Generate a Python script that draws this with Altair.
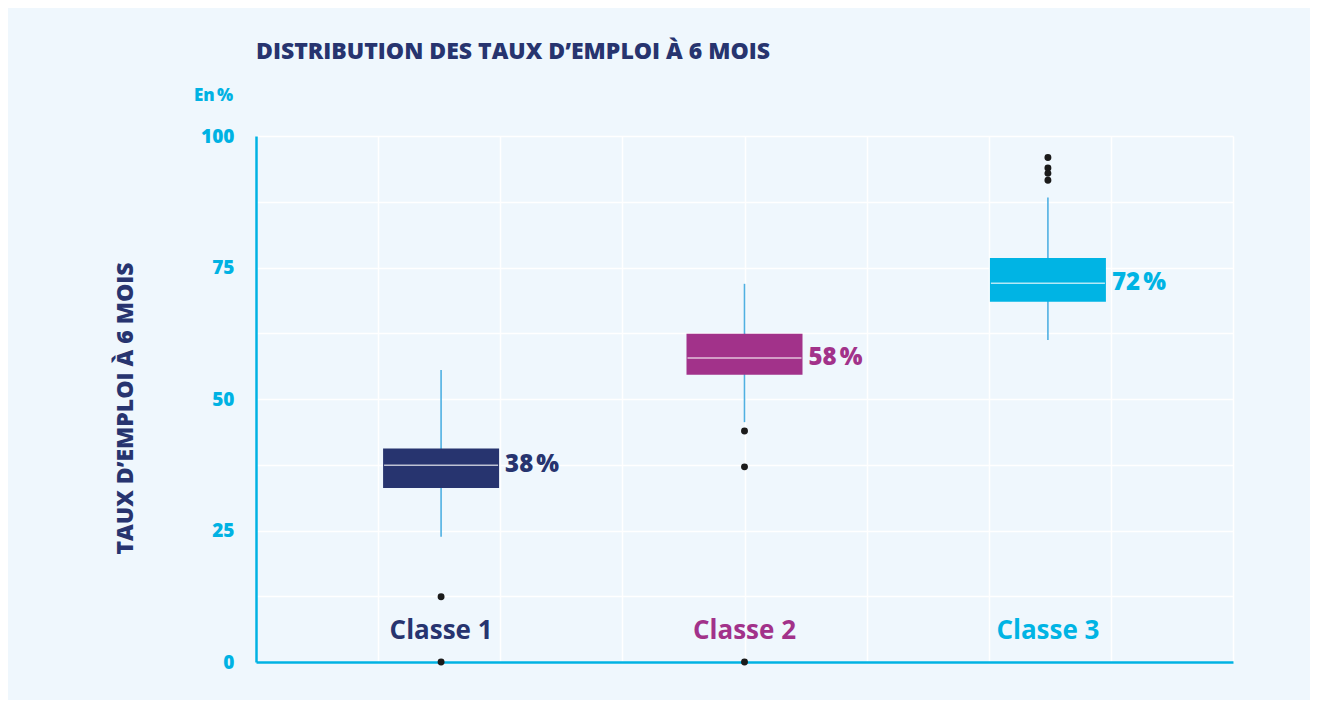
import altair as alt
import pandas as pd

# ---------------- data ----------------
classes = ["Classe 1", "Classe 2", "Classe 3"]
q1 = [33.1, 54.6, 68.5]
median = [37.4, 57.8, 72.0]
q3 = [40.6, 62.4, 76.8]
whisker_low = [23.8, 45.6, 61.2]
whisker_high = [55.5, 71.9, 88.3]
median_labels = ["38\u202f%", "58\u202f%", "72\u202f%"]

outlier_class = ["Classe 1", "Classe 1", "Classe 2", "Classe 2", "Classe 2",
                 "Classe 3", "Classe 3", "Classe 3", "Classe 3"]
outlier_value = [12.4, 0.0, 43.9, 37.1, 0.0, 95.9, 93.9, 92.9, 91.6]

y_ticks = [0, 12.5, 25, 37.5, 50, 62.5, 75, 87.5, 100]
grid_x = [0, 8]

class_colors = ["#27346f", "#a2328a", "#00b4e4"]
NAVY = "#27346f"
CYAN = "#00b2e3"
BG = "#eff7fd"
FONT = "Open Sans"

# ---------------- frames ----------------
stats = pd.DataFrame({
    "classe": classes, "q1": q1, "median": median, "q3": q3,
    "lo": whisker_low, "hi": whisker_high, "label": median_labels,
})
outliers = pd.DataFrame({"classe": outlier_class, "value": outlier_value})
grid_df = pd.DataFrame({"g": grid_x})

W, H = 977, 526

xband = alt.X("classe:N", sort=classes, axis=None,
              scale=alt.Scale(type="band", domain=classes, paddingInner=0, paddingOuter=0.11))
yscale = alt.Scale(domain=[0, 100], nice=False)
color = alt.Color("classe:N", scale=alt.Scale(domain=classes, range=class_colors), legend=None)

yaxis = alt.Axis(
    values=y_ticks,
    labelExpr="datum.value % 25 == 0 ? datum.label : ''",
    grid=True, gridColor="white", gridWidth=1.5,
    ticks=False, domain=True, domainColor=CYAN, domainWidth=2.5,
    labelColor=CYAN, labelFont=FONT, labelFontWeight=800, labelFontSize=19,
    labelPadding=22,
    title="TAUX D’EMPLOI À 6 MOIS", titleColor=NAVY, titleFont=FONT,
    titleFontWeight=800, titleFontSize=23,
    titleX=-131, titleY=272, titleAlign="center", titleBaseline="middle", titleAngle=270,
)

grid_layer = alt.Chart(grid_df).mark_rule(opacity=0).encode(
    x=alt.X("g:Q", scale=alt.Scale(domain=[0, 8], nice=False),
            axis=alt.Axis(values=list(range(9)), grid=True, gridColor="white", gridWidth=1.5,
                          labels=False, ticks=False, domain=True, domainColor=CYAN,
                          domainWidth=2.5, title=None)),
)

base = alt.Chart(stats)

whisk = base.mark_rule(color="#4fb0e2", strokeWidth=1.6).encode(
    x=xband,
    y=alt.Y("lo:Q", scale=yscale, axis=yaxis),
    y2="hi:Q",
)

boxes = base.mark_bar(size=116).encode(
    x=xband,
    y=alt.Y("q1:Q", scale=yscale),
    y2="q3:Q",
    color=color,
)

med = base.mark_tick(color="white", thickness=1.4, size=114).encode(
    x=xband,
    y=alt.Y("median:Q", scale=yscale),
)

pct = base.mark_text(align="left", baseline="middle", dx=64, font=FONT,
                     fontWeight=800, fontSize=24).encode(
    x=xband,
    y=alt.Y("median:Q", scale=yscale),
    text="label:N",
    color=color,
)

cls = base.mark_text(align="center", baseline="middle", font=FONT,
                     fontWeight=700, fontSize=26).encode(
    x=xband,
    y=alt.value(H - 31),
    text="classe:N",
    color=color,
)

outl = alt.Chart(outliers).mark_circle(size=48, color="#1b1b1b", opacity=1).encode(
    x=xband,
    y=alt.Y("value:Q", scale=yscale),
)

unit = alt.Chart(pd.DataFrame({"t": ["En\u202f%"]})).mark_text(
    align="right", baseline="middle", font=FONT, fontWeight=800,
    fontSize=17, color=CYAN,
).encode(
    x=alt.value(-23),
    y=alt.value(-40),
    text="t:N",
)

boxgroup = alt.layer(whisk, boxes, med, pct, cls, outl, unit)

chart = alt.layer(
    grid_layer, boxgroup
).resolve_scale(
    x="independent"
).properties(
    width=W, height=H,
    title=alt.TitleParams(
        "DISTRIBUTION DES TAUX D’EMPLOI À 6 MOIS",
        anchor="start", frame="group", font=FONT, fontSize=23,
        fontWeight=800, color=NAVY, offset=23,
    ),
    autosize=alt.AutoSizeParams(type="none"),
    padding={"left": 248, "top": 128, "right": 77, "bottom": 38},
    background=BG,
).configure_view(
    stroke=None, fill=BG
)

chart.save("out.html", embed_options={"renderer": "svg", "actions": False})
